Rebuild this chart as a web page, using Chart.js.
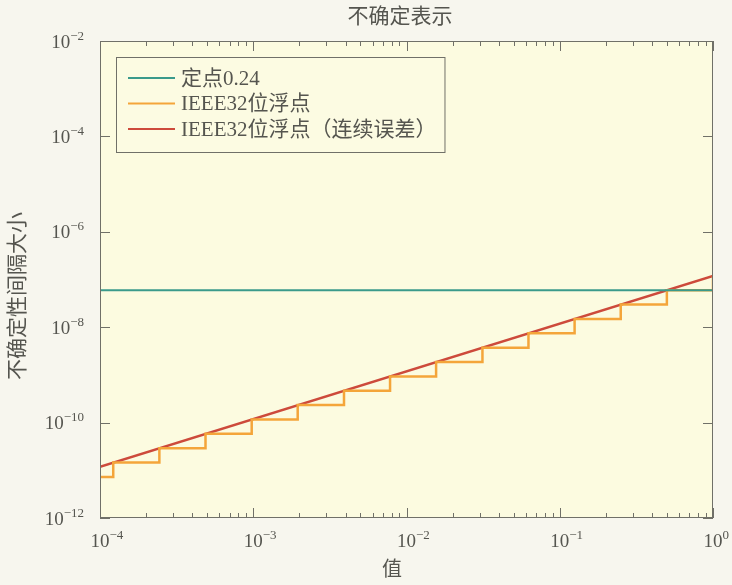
<!DOCTYPE html>
<html>
<head>
<meta charset="utf-8">
<script src="https://cdn.jsdelivr.net/npm/chart.js@4.4.1/dist/chart.umd.min.js"></script>
<style>
  html, body { margin: 0; padding: 0; background: #f7f6ee; }
  canvas { display: block; }
</style>
</head>
<body>
<canvas id="chart" width="732" height="585" style="width:732px;height:585px"></canvas>
<script>
// axis ranges and ticks
const xRange = [1e-4, 1];
const yRange = [1e-12, 1e-2];
const xTickExp = [-4, -3, -2, -1, 0];
const yTickExp = [-12, -10, -8, -6, -4, -2];
const minorSteps = [2, 3, 4, 5, 6, 7, 8, 9];

// 定点0.24
const fixedX = [1e-4, 1];
const fixedY = [5.96e-8, 5.96e-8];

// IEEE32位浮点 (stepped)
const floatX = [1e-4, 1.22e-4, 2.44e-4, 4.88e-4, 9.77e-4, 1.95e-3, 3.91e-3, 7.81e-3,
                1.56e-2, 3.13e-2, 6.25e-2, 0.125, 0.25, 0.5, 1];
const floatY = [7.28e-12, 1.46e-11, 2.91e-11, 5.82e-11, 1.16e-10, 2.33e-10, 4.66e-10, 9.31e-10,
                1.86e-9, 3.73e-9, 7.45e-9, 1.49e-8, 2.98e-8, 5.96e-8, 1.19e-7];

// IEEE32位浮点（连续误差）
const contX = [1e-4, 1];
const contY = [1.19e-11, 1.19e-7];

const labels = ['定点0.24', 'IEEE32位浮点', 'IEEE32位浮点（连续误差）'];
const colors = ['#3a9a8b', '#f4a53a', '#cd4a3b'];

const textColor = '#55554f';
const frameColor = '#707068';
const serif = '"Liberation Serif", "Noto Sans CJK SC", serif';

const toPoints = (xs, ys) => xs.map((x, i) => ({ x: x, y: ys[i] }));

const decorPlugin = {
    id: 'decor',
    beforeDraw(chart) {
        const ctx = chart.ctx;
        const a = chart.chartArea;
        ctx.save();
        ctx.fillStyle = '#f7f6ee';
        ctx.fillRect(0, 0, chart.width, chart.height);
        ctx.fillStyle = '#fcfbe0';
        ctx.fillRect(a.left, a.top, a.right - a.left, a.bottom - a.top);
        ctx.restore();
    },
    afterDraw(chart) {
        const ctx = chart.ctx;
        const a = chart.chartArea;
        const xs = chart.scales.x;
        const ys = chart.scales.y;
        ctx.save();

        // frame
        ctx.strokeStyle = frameColor;
        ctx.lineWidth = 1;
        ctx.strokeRect(a.left + 0.5, a.top + 0.5, a.right - a.left - 1, a.bottom - a.top - 1);

        // x ticks (inward, top and bottom)
        ctx.beginPath();
        xTickExp.forEach((e, i) => {
            const px = Math.round(xs.getPixelForValue(Math.pow(10, e))) + 0.5;
            ctx.moveTo(px, a.bottom); ctx.lineTo(px, a.bottom - 10);
            ctx.moveTo(px, a.top); ctx.lineTo(px, a.top + 10);
            if (i < xTickExp.length - 1) {
                minorSteps.forEach(m => {
                    const mx = Math.round(xs.getPixelForValue(m * Math.pow(10, e))) + 0.5;
                    ctx.moveTo(mx, a.bottom); ctx.lineTo(mx, a.bottom - 5);
                    ctx.moveTo(mx, a.top); ctx.lineTo(mx, a.top + 5);
                });
            }
        });
        // y ticks (inward, left and right)
        yTickExp.forEach(e => {
            const py = Math.round(ys.getPixelForValue(Math.pow(10, e))) + 0.5;
            ctx.moveTo(a.left, py); ctx.lineTo(a.left + 10, py);
            ctx.moveTo(a.right, py); ctx.lineTo(a.right - 10, py);
        });
        ctx.stroke();

        // tick labels 10^e
        ctx.fillStyle = textColor;
        const baseFont = '19px ' + serif;
        const expFont = '13px ' + serif;
        xTickExp.forEach(e => {
            const px = xs.getPixelForValue(Math.pow(10, e));
            ctx.font = baseFont;
            const w = ctx.measureText('10').width;
            ctx.textAlign = 'left';
            ctx.textBaseline = 'alphabetic';
            ctx.fillText('10', px - w / 2, a.bottom + 29);
            ctx.font = expFont;
            ctx.fillText(String(e).replace('-', '\u2212'), px + w / 2, a.bottom + 21);
        });
        yTickExp.forEach(e => {
            const py = ys.getPixelForValue(Math.pow(10, e));
            ctx.font = expFont;
            const es = String(e).replace('-', '\u2212');
            const ew = ctx.measureText(es).width;
            ctx.font = baseFont;
            const w = ctx.measureText('10').width;
            const right = a.left - 16;
            ctx.textAlign = 'left';
            ctx.textBaseline = 'alphabetic';
            ctx.fillText('10', right - ew - w, py + 6.5);
            ctx.font = expFont;
            ctx.fillText(es, right - ew, py - 1.5);
        });

        // titles
        ctx.textAlign = 'center';
        ctx.textBaseline = 'middle';
        ctx.font = '21px ' + serif;
        ctx.fillText('不确定表示', 400, 17);
        ctx.font = '20px ' + serif;
        ctx.fillText('值', 392, 571);
        ctx.save();
        ctx.translate(18, 296);
        ctx.rotate(-Math.PI / 2);
        ctx.font = '21px ' + serif;
        ctx.fillText('不确定性间隔大小', 0, 0);
        ctx.restore();

        // legend box inside plot
        const lx = a.left + 16, ly = a.top + 16;
        ctx.font = '21px ' + serif;
        let tw = 0;
        chart.data.datasets.forEach(d => { tw = Math.max(tw, ctx.measureText(d.label).width); });
        const bw = 65 + tw + 8, bh = 95;
        ctx.fillStyle = '#fcfbe2';
        ctx.fillRect(lx, ly, bw, bh);
        ctx.strokeStyle = frameColor;
        ctx.strokeRect(lx + 0.5, ly + 0.5, bw, bh);
        chart.data.datasets.forEach((d, i) => {
            const ry = ly + 21 + i * 25.5;
            ctx.strokeStyle = d.borderColor;
            ctx.lineWidth = 2;
            ctx.beginPath();
            ctx.moveTo(lx + 12, ry); ctx.lineTo(lx + 59, ry);
            ctx.stroke();
            ctx.fillStyle = textColor;
            ctx.textAlign = 'left';
            ctx.textBaseline = 'middle';
            ctx.fillText(d.label, lx + 65, ry + 1);
        });
        ctx.restore();
    }
};

new Chart(document.getElementById('chart'), {
    type: 'line',
    data: {
        datasets: [
            { label: labels[0], data: toPoints(fixedX, fixedY), borderColor: colors[0], borderWidth: 2 },
            { label: labels[1], data: toPoints(floatX, floatY), borderColor: colors[1], borderWidth: 2.5, stepped: 'before' },
            { label: labels[2], data: toPoints(contX, contY), borderColor: colors[2], borderWidth: 2.5 }
        ]
    },
    options: {
        responsive: false,
        devicePixelRatio: 1,
        animation: false,
        events: [],
        layout: { padding: { top: 41, right: 19, left: 0, bottom: 0 } },
        elements: { point: { radius: 0 }, line: { tension: 0, fill: false } },
        scales: {
            x: {
                type: 'logarithmic',
                min: xRange[0],
                max: xRange[1],
                grid: { display: false },
                border: { display: false },
                ticks: { display: false },
                afterFit: s => { s.height = 67; }
            },
            y: {
                type: 'logarithmic',
                min: yRange[0],
                max: yRange[1],
                grid: { display: false },
                border: { display: false },
                ticks: { display: false },
                afterFit: s => { s.width = 100; }
            }
        },
        plugins: {
            legend: { display: false },
            title: { display: false },
            tooltip: { enabled: false }
        }
    },
    plugins: [decorPlugin]
});
</script>
</body>
</html>
